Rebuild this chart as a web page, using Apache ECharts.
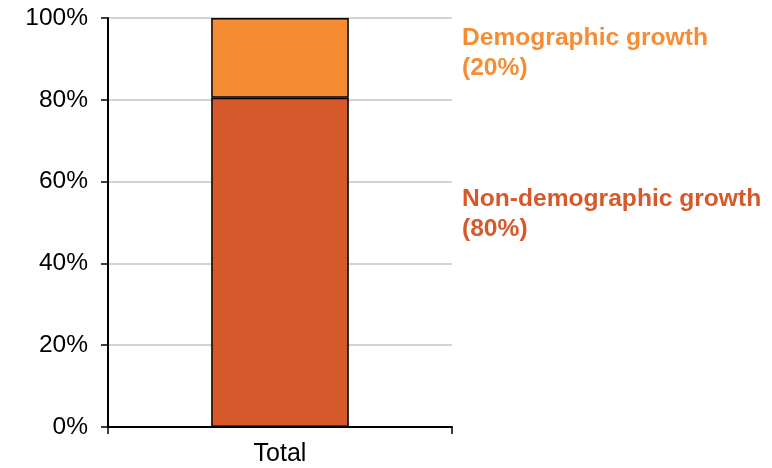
<!DOCTYPE html>
<html>
<head>
<meta charset="utf-8">
<script src="https://cdn.jsdelivr.net/npm/echarts@6/dist/echarts.min.js"></script>
<style>
  html, body { margin: 0; padding: 0; background: #fff; }
  #chart { width: 772px; height: 468px; }
</style>
</head>
<body>
<div id="chart"></div>
<script>
const categories = ['Total']
const nonDemographic = [80.5]
const demographic = [19.5]
const seriesNames = ['Non-demographic growth', 'Demographic growth']
const shareLabels = ['(80%)', '(20%)']
const colors = ['#D5592B', '#F68D35']

const chart = echarts.init(document.getElementById('chart'))

const font = 'Liberation Sans, Arial, sans-serif'

chart.setOption({
  animation: false,
  grid: { left: 108, right: 320, top: 18, bottom: 41 },
  xAxis: {
    type: 'category',
    data: categories,
    boundaryGap: true,
    axisLine: { lineStyle: { color: '#000', width: 2 } },
    axisTick: { show: true, alignWithLabel: false, length: 7, lineStyle: { color: '#000', width: 1.5 } },
    axisLabel: { color: '#000', fontSize: 25, fontFamily: font, margin: 15 }
  },
  yAxis: {
    type: 'value',
    min: 0,
    max: 100,
    interval: 20,
    axisLine: { show: true, lineStyle: { color: '#000', width: 2 } },
    axisTick: { show: true, length: 7, lineStyle: { color: '#000', width: 1.5 } },
    axisLabel: { color: '#000', fontSize: 24.5, fontFamily: font, margin: 20, formatter: '{value}%' },
    splitLine: { lineStyle: { color: '#c4c4c4', width: 1.5 } }
  },
  series: [
    {
      name: seriesNames[0],
      type: 'bar',
      stack: 'total',
      data: nonDemographic,
      barWidth: '40%',
      itemStyle: { color: colors[0], borderColor: '#000', borderWidth: 1.5 }
    },
    {
      name: seriesNames[1],
      type: 'bar',
      stack: 'total',
      data: demographic,
      barWidth: '40%',
      itemStyle: { color: colors[1], borderColor: '#000', borderWidth: 1.5 }
    }
  ],
  graphic: [
    {
      type: 'text', left: 462, top: 23,
      style: {
        text: seriesNames[1] + '\n' + shareLabels[1],
        fill: colors[1], font: 'bold 24.6px ' + font, lineHeight: 30
      }
    },
    {
      type: 'text', left: 462, top: 184,
      style: {
        text: seriesNames[0] + '\n' + shareLabels[0],
        fill: colors[0], font: 'bold 24.6px ' + font, lineHeight: 30
      }
    }
  ]
})
</script>
</body>
</html>
